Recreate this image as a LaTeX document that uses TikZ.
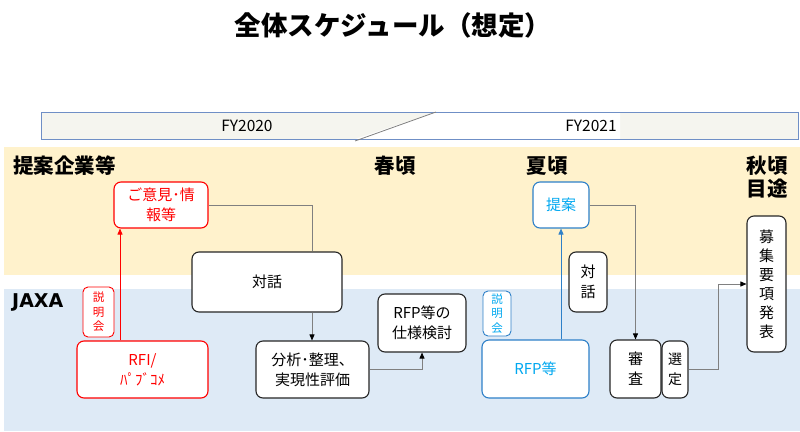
\documentclass[tikz,border=0pt]{standalone}
\usepackage{fontspec}
\setmainfont{Noto Sans CJK JP}
\newfontfamily\latinbold{DejaVu Sans}
\usetikzlibrary{arrows.meta}
\definecolor{bandY}{HTML}{FFF2CC}
\definecolor{bandB}{HTML}{DEEAF6}
\definecolor{barB}{HTML}{6F8FC6}
\definecolor{barF}{HTML}{F5F5EF}
\definecolor{boxK}{HTML}{262626}
\definecolor{lineG}{HTML}{808080}
\definecolor{redC}{HTML}{FF0000}
\definecolor{blueC}{HTML}{2E80C8}
\definecolor{cyanT}{HTML}{00A8F0}
\begin{document}
\begin{tikzpicture}[x=1pt,y=-1pt,
  sz/.style 2 args={minimum width=#1pt, minimum height=#2pt},
  box/.style={draw=boxK, line width=1.1pt, fill=white, rounded corners=7pt, align=center, inner sep=0pt, text=black, font=\fontsize{15}{20}\selectfont},
  redbox/.style={box, draw=redC, text=redC},
  bluebox/.style={box, draw=blueC, text=cyanT},
  small/.style={font=\fontsize{11.5}{14.5}\selectfont, rounded corners=5pt, line width=0.9pt},
  conn/.style={draw=lineG, line width=0.8pt},
  arr/.style={-{Triangle[length=6pt,width=5pt,color=black]}},
  band/.style={font=\bfseries\fontsize{20.5}{24}\selectfont, inner sep=0pt},
  yr/.style={font=\fontsize{15.5}{18}\selectfont, inner sep=0pt}
]
\useasboundingbox (0,0) rectangle (800,431);
% bands
\fill[bandY] (4,147) rectangle (800,275);
\fill[bandB] (4,289) rectangle (800,431);
% title
\node[font=\bfseries\fontsize{26.5}{30}\selectfont, inner sep=0pt] (title) at (393,25) {全体スケジュール（想定）};
% timeline bar
\fill[barF] (41,112) rectangle (798,139);
\fill[white] (436,112) -- (620,112) -- (620,139) -- (355,139) -- cycle;
\draw[barB, line width=1pt] (41,112) rectangle (798,139);
\draw[lineG, line width=0.8pt] (355,141) -- (436,112);
\node[yr] (fy20) at (247,126) {FY2020};
\node[yr] (fy21) at (591,126) {FY2021};
% band labels
\node[band, anchor=west] (kigyo) at (13,166) {提案企業等};
\node[band] (haru) at (395,166) {春頃};
\node[band] (natsu) at (547,166) {夏頃};
\node[band, align=center, font=\bfseries\fontsize{20.5}{23}\selectfont] (aki) at (767,177) {秋頃\\目途};
\node[band, anchor=west, font=\latinbold\bfseries\fontsize{19}{23}\selectfont] (jaxa) at (12,302) {JAXA};
% boxes
\node[redbox, sz={94}{46}] (goiken) at (161,205) {ご意見･情\\報等};
\node[box, sz={150}{60}] (taiwa1) at (267,282) {対話};
\node[box, sz={113}{57}] (bunseki) at (312.5,369.5) {分析･整理、\\実現性評価};
\node[box, sz={88}{58}] (rfpsiyo) at (422,323) {RFP等の\\仕様検討};
\node[redbox, small, sz={31}{50}] (setsu1) at (98.5,312) {説\\明\\会};
\node[redbox, sz={131}{57}] (rfi) at (142.5,369.5) {RFI/\\ﾊﾟﾌﾞｺﾒ};
\node[bluebox, sz={56}{46}] (teian) at (561,205) {提案};
\node[box, sz={38}{60}] (taiwa2) at (588,282) {対\\話};
\node[bluebox, small, sz={28}{45}] (setsu2) at (497,313.5) {説\\明\\会};
\node[bluebox, sz={107}{58}] (rfp) at (535.5,369) {RFP等};
\node[box, sz={51}{58}] (shinsa) at (635.5,369) {審\\査};
\node[box, sz={26}{57}, font=\fontsize{14}{20}\selectfont] (sentei) at (675,369.5) {選\\定};
\node[box, sz={39}{136}, font=\fontsize{15}{19}\selectfont] (boshu) at (766.5,284) {募\\集\\要\\項\\発\\表};
% connectors
\coordinate (cx1) at (312,0);
\coordinate (cx2) at (120,0);
\coordinate (cx3) at (718,0);
\draw[conn] (goiken.east) -| (cx1 |- taiwa1.north);
\draw[conn, arr] (cx1 |- taiwa1.south) -- (cx1 |- bunseki.north);
\draw[conn, arr] (bunseki.east) -| (rfpsiyo.south);
\draw[draw=redC, line width=0.8pt, -{Triangle[length=6pt,width=5pt,color=redC]}] (cx2 |- rfi.north) -- (cx2 |- goiken.south);
\draw[draw=blueC, line width=0.8pt, -{Triangle[length=6pt,width=5pt,color=blueC]}] (teian.south |- rfp.north) -- (teian.south);
\draw[conn, arr] (teian.east) -| (shinsa.north);
\draw[conn, arr] (sentei.east) -| (cx3 |- boshu.west) -- (boshu.west);
\end{tikzpicture}
\end{document}
